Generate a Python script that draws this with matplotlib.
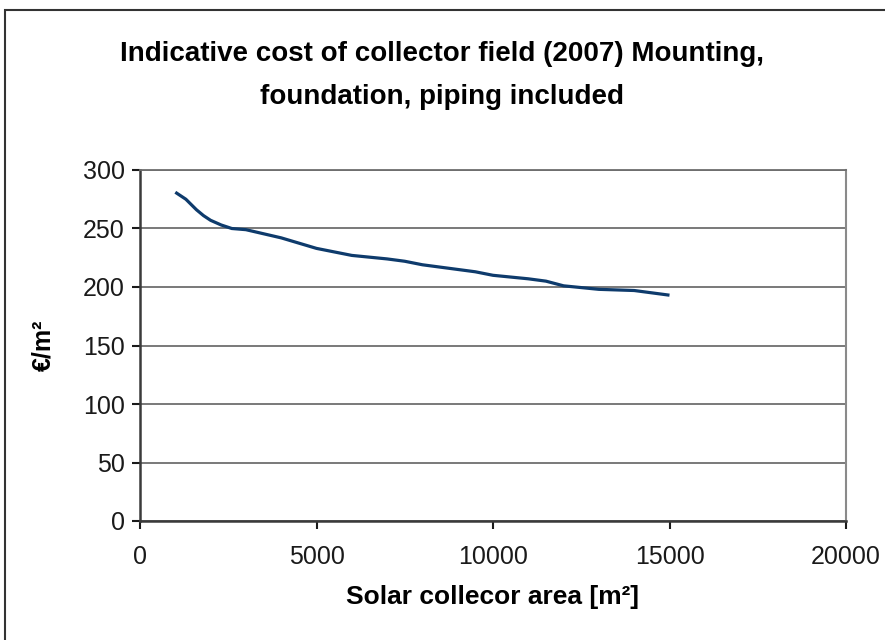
import matplotlib
matplotlib.use("Agg")
import matplotlib.pyplot as plt
from matplotlib.patches import Rectangle

plt.rcParams['font.family'] = ['Liberation Sans', 'DejaVu Sans']

title = "Indicative cost of collector field (2007) Mounting,\nfoundation, piping included"
x_label = "Solar collecor area [m²]"
y_label = "€/m²"

area = [1000, 1300, 1600, 1800, 2000, 2300, 2600, 3000, 4000, 5000, 6000, 7000,
        7500, 8000, 9000, 9500, 10000, 11000, 11500, 12000, 13000, 14000, 15000]
cost = [281, 275, 266, 261, 257, 253, 250, 249, 242, 233, 227, 224,
        222, 219, 215, 213, 210, 207, 205, 201, 198, 197, 193]

x_ticks = [0, 5000, 10000, 15000, 20000]
y_ticks = [0, 50, 100, 150, 200, 250, 300]

fig = plt.figure(figsize=(8.85, 6.4), dpi=100)
ax = fig.add_axes([140/885, 1-521/640, 706/885, 351/640])

ax.plot(area, cost, color='#0e3b6c', lw=2.3, solid_capstyle='butt',
        solid_joinstyle='round')

ax.set_xlim(0, 20000)
ax.set_ylim(0, 300)
ax.set_xticks(x_ticks)
ax.set_yticks(y_ticks)
ax.yaxis.grid(True, color='#6e6e6e', lw=1.3)
ax.set_axisbelow(True)

for s in ['left', 'bottom']:
    ax.spines[s].set_color('#3a3a3a')
    ax.spines[s].set_linewidth(1.8)
ax.spines['right'].set_color('#8a8a8a')
ax.spines['right'].set_linewidth(1.5)
ax.spines['top'].set_color('#6e6e6e')
ax.spines['top'].set_linewidth(1.3)

ax.tick_params(axis='both', labelsize=18, colors='#1a1a1a', length=6, width=1.5,
               direction='out')
ax.tick_params(axis='x', pad=11)
ax.tick_params(axis='y', pad=5)

ax.set_xlabel(x_label, fontsize=19, fontweight='bold', labelpad=12)
ax.set_ylabel(y_label, fontsize=18, fontweight='bold', labelpad=20)

fig.text(0.5, 1-75.5/640, title, ha='center', va='center', fontsize=20,
         fontweight='bold', linespacing=1.85)

fig.patches.append(Rectangle((5/885, -0.1), 1.2, 1-10/640+0.1,
                             transform=fig.transFigure, fill=False,
                             edgecolor='#333333', lw=1.5))

fig.savefig('out.png', dpi=100)
